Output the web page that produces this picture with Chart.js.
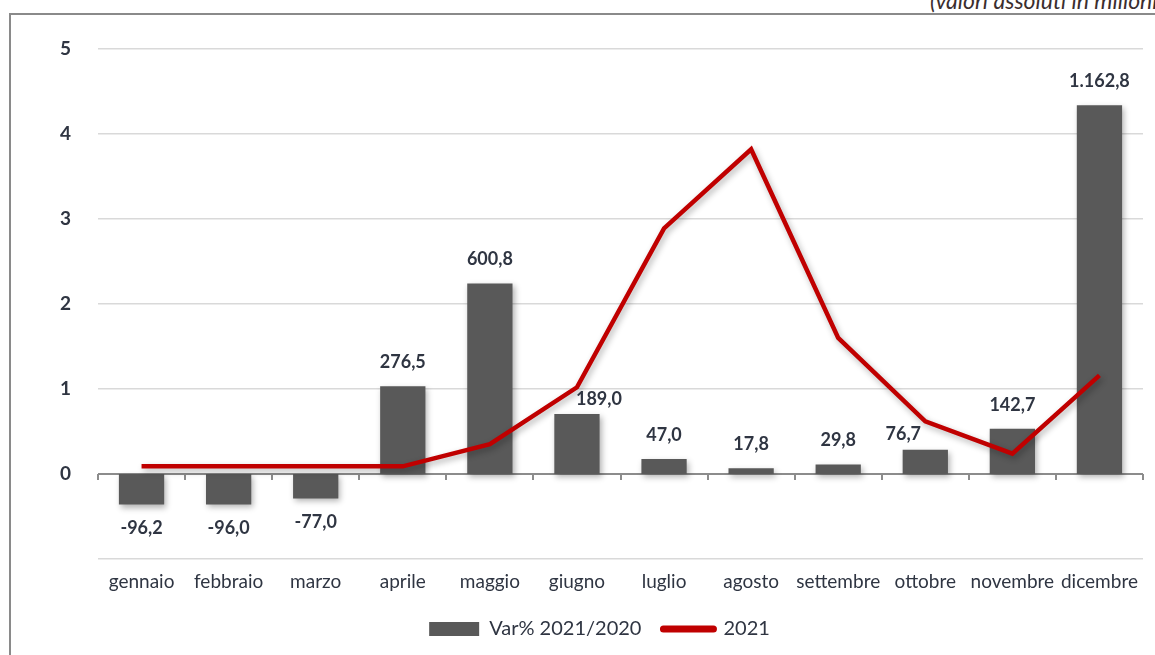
<!DOCTYPE html>
<html>
<head>
<meta charset="utf-8">
<script src="https://cdn.jsdelivr.net/npm/chart.js@4.4.1/dist/chart.umd.min.js"></script>
<style>
  body { margin: 0; background: #fff; overflow: hidden; }
  #wrap { position: relative; width: 1155px; height: 655px; overflow: hidden; }
  #frame { position: absolute; left: 9px; top: 13px; width: 1160px; height: 660px;
    border-left: 2px solid #8a8a8a; border-top: 2px solid #8a8a8a; }
  #note { position: absolute; left: 930px; top: -14px; font: italic 23px Lato, sans-serif;
    color: #3b2e2e; white-space: nowrap; }
  canvas { position: absolute; left: 0; top: 0; }
</style>
</head>
<body>
<div id="wrap">
  <div id="frame"></div>
  <div id="note">(valori assoluti in milioni)</div>
  <canvas id="myChart" width="1155" height="655"></canvas>
</div>
<script>
var mesi = ['gennaio', 'febbraio', 'marzo', 'aprile', 'maggio', 'giugno',
  'luglio', 'agosto', 'settembre', 'ottobre', 'novembre', 'dicembre']
// Var% 2021/2020 (etichette delle barre)
var varPerc = [-96.2, -96.0, -77.0, 276.5, 600.8, 189.0, 47.0, 17.8, 29.8, 76.7, 142.7, 1162.8]
// valori 2021, asse di sinistra
var valori2021 = [0.09, 0.09, 0.09, 0.09, 0.35, 1.02, 2.89, 3.82, 1.6, 0.62, 0.24, 1.16]
var tickSinistra = [-1, 0, 1, 2, 3, 4, 5]

function formatIt(v){
  var s = Math.abs(v).toFixed(1).split('.')
  var int = s[0].replace(/\B(?=(\d{3})+(?!\d))/g, '.')
  return (v < 0 ? '-' : '') + int + ',' + s[1]
}

var textColor = '#2f3542'

// etichette sopra/sotto le barre, spostate di lato se la linea ci passa sopra
var barLabels = {
  id: 'barLabels',
  afterDatasetsDraw(chart){
    var ctx = chart.ctx
    var bars = chart.getDatasetMeta(0).data
    var pts = chart.getDatasetMeta(1).data
    ctx.save()
    ctx.font = 'bold 18px Lato, sans-serif'
    ctx.fillStyle = textColor
    ctx.textAlign = 'center'
    ctx.textBaseline = 'middle'
    bars.forEach((bar, i) => {
      var v = varPerc[i]
      var x = bar.x
      var y = v < 0 ? bar.y + 24 : bar.y - 24
      if (v > 0 && Math.abs(pts[i].y - y) < 16) {
        var prev = pts[i - 1] ? pts[i - 1].y : Infinity
        var next = pts[i + 1] ? pts[i + 1].y : Infinity
        x += next < prev ? 22 : -22
        y = bar.y - 15
      }
      ctx.fillText(formatIt(v), x, y)
    })
    ctx.restore()
  }
}

// ombra leggera, tacche sulla linea dello zero, legenda un po' piu' su
var extras = {
  id: 'extras',
  afterLayout(chart){
    var lg = chart.legend
    var h = lg.bottom - lg.top
    lg.top = chart.scales.x.bottom - 13
    lg.bottom = lg.top + h
  },
  beforeDatasetsDraw(chart){
    var ctx = chart.ctx
    var x = chart.scales.x
    var y0 = chart.scales.y.getPixelForValue(0)
    var step = (x.right - x.left) / mesi.length
    ctx.save()
    ctx.strokeStyle = '#8c8c8c'
    ctx.lineWidth = 2
    ctx.beginPath()
    for (var i = 0; i <= mesi.length; i++) {
      var px = Math.round(x.left + i * step)
      ctx.moveTo(px, y0)
      ctx.lineTo(px, y0 + 6)
    }
    ctx.stroke()
    ctx.restore()
  },
  beforeDatasetDraw(chart){
    var ctx = chart.ctx
    ctx.save()
    ctx.shadowColor = 'rgba(0,0,0,0.3)'
    ctx.shadowBlur = 6
    ctx.shadowOffsetX = 2
    ctx.shadowOffsetY = 3
  },
  afterDatasetDraw(chart){
    chart.ctx.restore()
  }
}

var ctx = document.getElementById('myChart').getContext('2d')
var myChart = new Chart(ctx, {
  data: {
    labels: mesi,
    datasets: [{
      type: 'bar',
      label: 'Var% 2021/2020',
      data: varPerc,
      backgroundColor: '#595959',
      borderWidth: 0,
      barPercentage: 0.52,
      categoryPercentage: 1,
      pointStyle: 'rect',
      yAxisID: 'y2',
      order: 2
    },
    {
      type: 'line',
      label: '2021',
      data: valori2021,
      borderColor: '#c00000',
      backgroundColor: '#c00000',
      borderWidth: 4.5,
      pointRadius: 0,
      tension: 0,
      fill: false,
      pointStyle: 'line',
      yAxisID: 'y',
      order: 1
    }]
  },
  options: {
    responsive: false,
    animation: false,
    layout: { padding: { left: 56, right: 12, top: 49, bottom: -7 } },
    plugins: {
      tooltip: { enabled: false },
      legend: {
        position: 'bottom',
        labels: {
          usePointStyle: true,
          pointStyleWidth: 50,
          boxHeight: 14,
          padding: 22,
          color: textColor,
          font: { family: 'Lato, sans-serif', size: 20 },
          generateLabels(chart){
            var items = Chart.defaults.plugins.legend.labels.generateLabels(chart)
            items.forEach(it => {
              if (it.pointStyle == 'line') {
                it.lineWidth = 7
                it.lineCap = 'round'
              }
            })
            return items.sort((a, b) => a.datasetIndex - b.datasetIndex)
          }
        }
      }
    },
    scales: {
      x: {
        grid: { display: false, drawTicks: false },
        border: { display: false },
        ticks: {
          color: textColor,
          font: { family: 'Lato, sans-serif', size: 19 },
          padding: 11,
          autoSkip: false,
          maxRotation: 0
        },
        afterFit(scale){ scale.height = 51 }
      },
      y: {
        min: -1,
        max: 5,
        afterBuildTicks(scale){ scale.ticks = tickSinistra.map(v => ({ value: v })) },
        grid: {
          color: c => c.tick.value == 0 ? '#8c8c8c' : '#d9d9d9',
          lineWidth: c => c.tick.value == 0 ? 2 : 1.5,
          drawTicks: false
        },
        border: { display: false },
        ticks: {
          color: textColor,
          font: { family: 'Lato, sans-serif', size: 19, weight: 'bold' },
          padding: 27,
          callback: v => v < 0 ? '' : v
        },
        afterFit(scale){ scale.width = 42 }
      },
      y2: {
        display: false,
        min: -268,
        max: 1340
      }
    }
  },
  plugins: [extras, barLabels]
})
</script>
</body>
</html>
